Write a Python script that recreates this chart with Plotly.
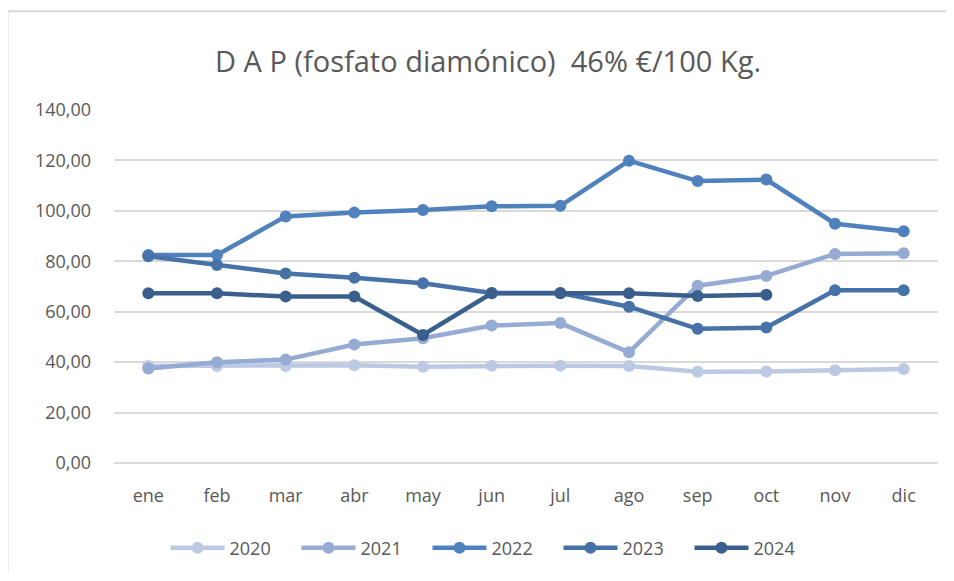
import plotly.graph_objects as go

months = ["ene", "feb", "mar", "abr", "may", "jun", "jul", "ago", "sep", "oct", "nov", "dic"]
y2020 = [38.5, 38.5, 38.5, 38.8, 38.2, 38.6, 38.6, 38.5, 36.2, 36.3, 36.8, 37.3]
y2021 = [37.5, 40.0, 41.0, 47.0, 49.5, 54.5, 55.5, 43.9, 70.3, 74.2, 82.9, 83.2]
y2022 = [82.5, 82.5, 97.8, 99.3, 100.3, 101.8, 102.0, 119.9, 111.8, 112.4, 94.9, 91.9]
y2023 = [82.0, 78.5, 75.2, 73.5, 71.3, 67.4, 67.4, 62.0, 53.2, 53.7, 68.5, 68.5]
y2024 = [67.3, 67.3, 66.0, 66.0, 50.8, 67.3, 67.3, 67.3, 66.2, 66.7, None, None]

series = [
    ("2020", y2020, "#BCC9E3"),
    ("2021", y2021, "#95ABD3"),
    ("2022", y2022, "#4F81BD"),
    ("2023", y2023, "#4672A8"),
    ("2024", y2024, "#3A5F8D"),
]

fig = go.Figure()
for name, vals, color in series:
    fig.add_trace(go.Scatter(
        x=months, y=vals, name=name, mode="lines+markers",
        line=dict(color=color, width=4.5),
        marker=dict(color=color, size=12),
        connectgaps=False,
    ))

# page offset (body margin) compensation: reference pixel -> figure pixel
OFF = 8
W, H = 954 - 2 * OFF, 581 - 2 * OFF
L = 114 - OFF
T = 110 - OFF
R = W - (938 - OFF)
B = H - (464 - OFF)
pw, ph = W - L - R, H - T - B

def px(x):
    return (x - OFF - L) / pw

def py(y):
    return (H - B - (y - OFF)) / ph

font_family = "'Open Sans', Lato, sans-serif"
grey = "#595959"
border = dict(color="#D9D9D9", width=2)

fig.update_layout(
    width=W, height=H,
    margin=dict(l=L, r=R, t=T, b=B),
    paper_bgcolor="white", plot_bgcolor="white",
    font=dict(family=font_family, color=grey, size=17),
    showlegend=True,
    legend=dict(
        orientation="h", x=px(493), xanchor="center", y=py(548), yanchor="middle",
        font=dict(size=18, color=grey), itemwidth=54, traceorder="normal",
        entrywidth=62, entrywidthmode="pixels",
    ),
    xaxis=dict(
        type="category", range=[-0.5, 11.5], showgrid=False, showline=False, zeroline=False,
        ticks="", tickfont=dict(size=18, color=grey), ticklabelstandoff=20,
    ),
    yaxis=dict(
        range=[0, 140], dtick=20, tickformat=".2f",
        showgrid=True, gridcolor="#D9D9D9", gridwidth=2,
        zeroline=True, zerolinecolor="#D9D9D9", zerolinewidth=2,
        showline=False, ticks="", tickfont=dict(size=18, color=grey),
        ticklabelstandoff=22,
    ),
    separators=",.",
    shapes=[
        dict(type="line", xref="paper", yref="paper",
             x0=px(7.5), x1=px(1000), y0=py(11), y1=py(11), line=border, layer="below"),
        dict(type="line", xref="paper", yref="paper",
             x0=px(7.5), x1=px(7.5), y0=py(11), y1=py(700), line=border, layer="below"),
    ],
    annotations=[dict(
        text="D A P (fosfato diamónico)\u00a0\u00a046% €/100 Kg.",
        xref="paper", yref="paper", x=px(488), y=py(60),
        xanchor="center", yanchor="middle", showarrow=False,
        font=dict(size=29, color=grey, family=font_family),
    )],
)

fig.write_html("out.html")
